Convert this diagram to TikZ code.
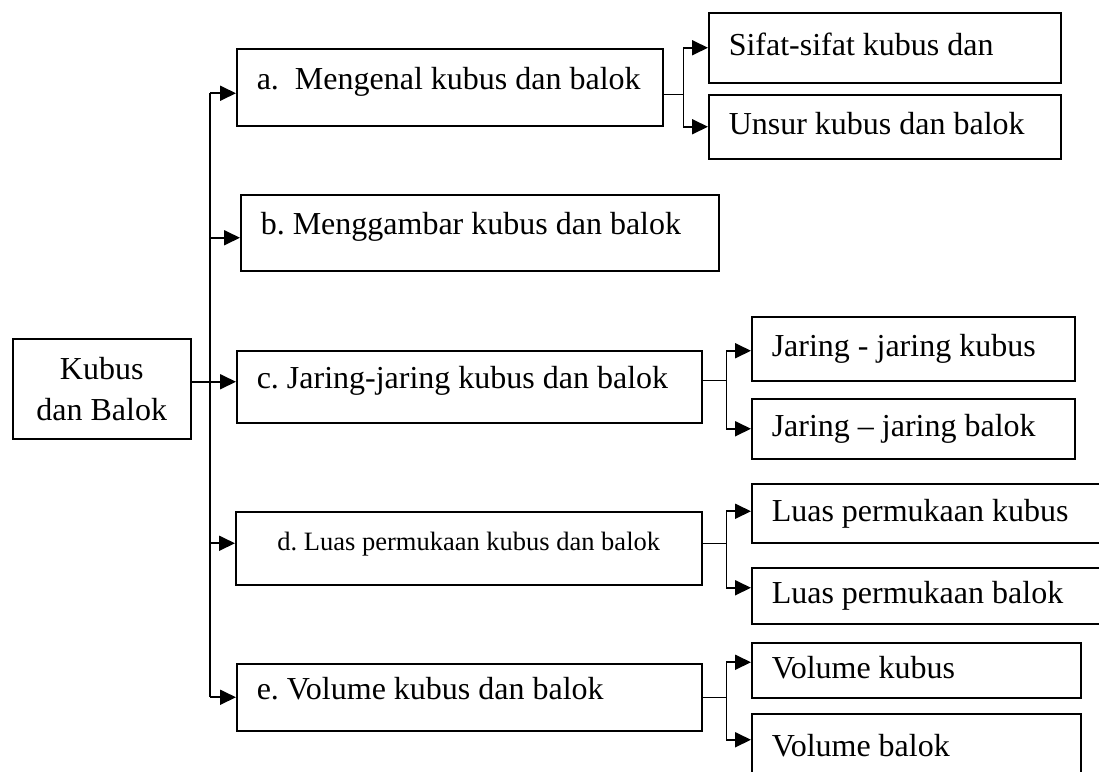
\documentclass[tikz,border=0pt]{standalone}
\usepackage{fontspec}
\setmainfont{Liberation Serif}
\usetikzlibrary{positioning,arrows.meta}
\frenchspacing

\begin{document}
\begin{tikzpicture}[
  x=1pt,y=-1pt,
  box/.style={rectangle,draw,line width=1.5pt,anchor=north west,
              inner xsep=20pt,inner ysep=0pt,align=flush left,
              font=\fontsize{32}{41}\selectfont},
  leftbox/.style={box,text height=14pt,text depth=10pt},
  subbox/.style={box,text height=20pt,text depth=4pt},
  arrow/.style={-{Triangle[length=16pt,width=15pt]},line width=1.8pt},
  link/.style={line width=1.3pt}
]
  \useasboundingbox (0,0) rectangle (1099,771);
  \clip (0,0) rectangle (1099,771);

  % root
  \node[box,align=flush center,inner xsep=0pt,minimum width=178pt,minimum height=100pt]
       (kubus) at (12,338) {Kubus\\dan Balok};

  % main topics
  \node[leftbox,minimum width=426pt,text width=386pt,minimum height=77pt]
       (mengenal) at (236,48) {\mbox{a.\ \ Mengenal kubus dan balok}};
  \node[leftbox,minimum width=478pt,text width=438pt,minimum height=76pt]
       (gambar) at (240,194) {b. Menggambar kubus dan balok};
  \node[leftbox,minimum width=465pt,text width=425pt,minimum height=72pt]
       (jaring) at (236,350) {c. Jaring-jaring kubus dan balok};
  \node[leftbox,align=flush center,inner xsep=0pt,minimum width=466pt,minimum height=73pt,
        font=\fontsize{26.5}{30}\selectfont]
       (luas) at (235,511) {d. Luas permukaan kubus dan balok};
  \node[leftbox,minimum width=465pt,text width=425pt,minimum height=67pt]
       (volume) at (236,663) {e. Volume kubus dan balok};

  % sub topics
  \node[subbox,minimum width=352pt,text width=312pt,minimum height=70pt]
       (sifat) at (708,12) {Sifat-sifat kubus dan};
  \node[subbox,minimum width=352pt,text width=312pt,minimum height=64pt]
       (unsur) at (708,94) {Unsur kubus dan balok};
  \node[subbox,minimum width=323pt,text width=283pt,minimum height=64pt]
       (jkubus) at (751,316) {Jaring - jaring kubus};
  \node[subbox,minimum width=323pt,text width=283pt,minimum height=60pt]
       (jbalok) at (751,398) {Jaring -- jaring balok};
  \node[subbox,minimum width=360pt,text width=320pt,minimum height=59pt]
       (lkubus) at (751,483) {Luas permukaan kubus};
  \node[subbox,minimum width=360pt,text width=320pt,minimum height=56pt]
       (lbalok) at (751,567) {Luas permukaan balok};
  \node[subbox,minimum width=329pt,text width=289pt,minimum height=55pt]
       (vkubus) at (751,642) {Volume kubus};
  \node[subbox,minimum width=329pt,text width=289pt,minimum height=70pt]
       (vbalok) at (751,713) {Volume balok};

  % entry points on the main topics
  \coordinate (ain) at ([yshift=-6pt]mengenal.west);
  \coordinate (bin) at ([yshift=-5pt]gambar.west);
  \coordinate (cin) at ([yshift=5pt]jaring.west);
  \coordinate (din) at ([yshift=5pt]luas.west);
  \coordinate (trunk) at (210,0);

  % trunk from the root
  \draw[arrow] (kubus.east |- cin) -- (cin);
  \draw[line width=1.8pt] (trunk |- ain) -- (trunk |- volume.west);
  \draw[arrow] (trunk |- ain) -- (ain);
  \draw[arrow] (trunk |- bin) -- (bin);
  \draw[arrow] (trunk |- din) -- (din);
  \draw[arrow] (trunk |- volume.west) -- (volume.west);

  % branches
  \draw[link] ([yshift=-7pt]mengenal.east) -- ++(20,0) coordinate (abr);
  \draw[arrow] (abr) |- (sifat.west);
  \draw[arrow] (abr) |- (unsur.west);

  \draw[link] ([yshift=6pt]jaring.east) -- ++(24,0) coordinate (cbr);
  \draw[arrow] (cbr) |- ([yshift=-2pt]jkubus.west);
  \draw[arrow] (cbr) |- (jbalok.west);

  \draw[link] ([yshift=5pt]luas.east) -- ++(24,0) coordinate (dbr);
  \draw[arrow] (dbr) |- ([yshift=2pt]lkubus.west);
  \draw[arrow] (dbr) |- ([yshift=8pt]lbalok.west);

  \draw[link] (volume.east) -- ++(24,0) coordinate (ebr);
  \draw[arrow] (ebr) |- ([yshift=8pt]vkubus.west);
  \draw[arrow] (ebr) |- ([yshift=9pt]vbalok.west);
\end{tikzpicture}
\end{document}
